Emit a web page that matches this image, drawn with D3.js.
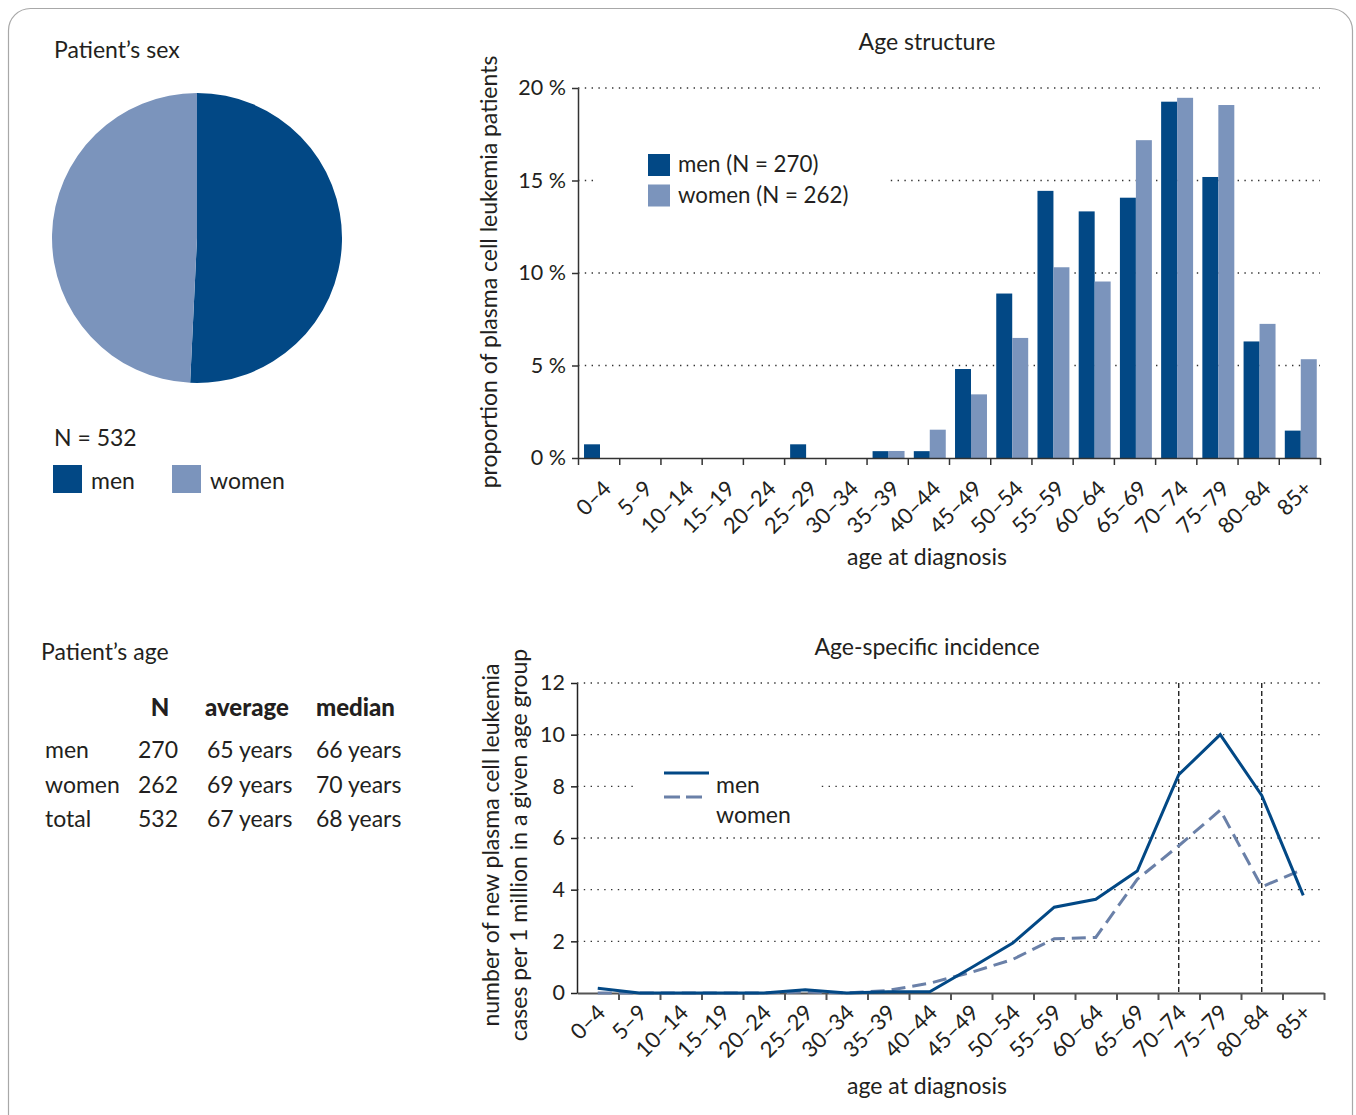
<!DOCTYPE html>
<html>
<head>
<meta charset="utf-8">
<script src="https://cdn.jsdelivr.net/npm/d3@7"></script>
<style>
  html, body { margin: 0; padding: 0; background: #fff; }
  svg { display: block; font-family: Lato, "Noto Sans", sans-serif; }
  text { fill: #231f20; }
</style>
</head>
<body>
<svg id="chart" width="1356" height="1115"></svg>
<script>
// ---- data ----
const ageGroups = ["0–4","5–9","10–14","15–19","20–24","25–29","30–34","35–39","40–44",
                   "45–49","50–54","55–59","60–64","65–69","70–74","75–79","80–84","85+"];

// share of patients in each age group (%)
const menShare   = [0.74,0,0,0,0,0.74,0,0.37,0.37,4.81,8.89,14.44,13.33,14.07,19.26,15.19,6.30,1.48];
const womenShare = [0,0,0,0,0,0,0,0.38,1.53,3.44,6.49,10.31,9.54,17.18,19.47,19.08,7.25,5.34];

// new cases per 1 million in each age group
const menIncidence   = [0.18,0,0,0,0,0.13,0,0.05,0.05,0.98,1.93,3.32,3.63,4.72,8.45,10.0,7.65,3.78];
const womenIncidence = [0,0,0,0,0,0.04,0,0.1,0.38,0.8,1.3,2.1,2.15,4.4,5.7,7.08,4.11,4.79];

const sexLabels = ["men","women"];
const sexCounts = [270, 262];

const shareTicks = [0,5,10,15,20];
const incidenceTicks = [0,2,4,6,8,10,12];
const markedGroups = ["70–74","80–84"];

const ageTable = [
  ["men",   "270", "65 years", "66 years"],
  ["women", "262", "69 years", "70 years"],
  ["total", "532", "67 years", "68 years"]
];
const ageTableHeader = ["", "N", "average", "median"];

// ---- styling ----
const C_MEN = "#024885";
const C_WOMEN = "#7b94bc";
const C_WOMEN_LINE = "#6a80a8";
const INK = "#231f20";
const FS = 23;        // body text
const FS_TICK = 21.5; // numeric tick labels
const FS_CAT = 22;    // age group labels

const svg = d3.select("#chart");

// outer frame
svg.append("rect")
  .attr("x", 8.5).attr("y", 8.5).attr("width", 1344).attr("height", 1140)
  .attr("rx", 22).attr("fill", "none").attr("stroke", "#a8a8a8").attr("stroke-width", 1.2);

// ---------- Patient's sex (pie) ----------
svg.append("text").attr("x", 54).attr("y", 58).attr("font-size", FS).text("Patient’s sex");

const pie = d3.pie().sort(null)(sexCounts);
const arc = d3.arc().innerRadius(0).outerRadius(145);
svg.append("g").attr("transform", "translate(197,238)")
  .selectAll("path").data(pie).join("path")
  .attr("d", arc)
  .attr("fill", (d, i) => i === 0 ? C_MEN : C_WOMEN);

svg.append("text").attr("x", 54).attr("y", 446).attr("font-size", FS)
  .text("N = " + d3.sum(sexCounts));

const pieLegend = svg.append("g");
sexLabels.forEach((s, i) => {
  const x0 = 53 + i * 119;
  pieLegend.append("rect").attr("x", x0).attr("y", 465).attr("width", 29).attr("height", 28)
    .attr("fill", i === 0 ? C_MEN : C_WOMEN);
  pieLegend.append("text").attr("x", x0 + 38).attr("y", 489).attr("font-size", FS).text(s);
});

// ---------- Patient's age (table) ----------
svg.append("text").attr("x", 41).attr("y", 660).attr("font-size", FS).text("Patient’s age");

const colX = [45, 178, 207, 316];
const colAnchor = ["start", "end", "start", "start"];
const headX = [45, 160, 205, 316];
const headAnchor = ["start", "middle", "start", "start"];
ageTableHeader.forEach((h, j) => {
  svg.append("text").attr("x", headX[j]).attr("y", 716).attr("font-size", 24)
    .attr("font-weight", "900").attr("text-anchor", headAnchor[j]).text(h);
});
ageTable.forEach((row, i) => {
  row.forEach((cell, j) => {
    svg.append("text").attr("x", colX[j]).attr("y", 758 + i * 34.5).attr("font-size", FS)
      .attr("text-anchor", colAnchor[j]).text(cell);
  });
});

// helper: dotted horizontal gridlines
function grid(g, yScale, values, x0, x1) {
  g.selectAll("line.grid").data(values).join("line")
    .attr("class", "grid")
    .attr("x1", x0).attr("x2", x1)
    .attr("y1", d => yScale(d)).attr("y2", d => yScale(d))
    .attr("stroke", "#333").attr("stroke-width", 1.4).attr("stroke-dasharray", "1.4,5.4");
}

// helper: rotated category labels
function catLabels(g, xScale, y, dx, dy) {
  g.selectAll("text.cat").data(ageGroups).join("text")
    .attr("class", "cat")
    .attr("text-anchor", "end")
    .attr("font-size", FS_CAT)
    .attr("transform", d => `translate(${xScale(d) + xScale.bandwidth() / 2 + dx},${y + dy}) rotate(-45)`)
    .text(d => d);
}

// ---------- Age structure (grouped bars) ----------
{
  const left = 578, right = 1320, top = 88, bottom = 458;
  const x = d3.scaleBand().domain(ageGroups).range([left, right]).padding(0);
  const xs = d3.scaleBand().domain(sexLabels).range([0, x.bandwidth()]).paddingOuter(0.29).align(0.65);
  const y = d3.scaleLinear().domain([0, 20]).range([bottom, top]);
  const g = svg.append("g");

  g.append("text").attr("x", 927).attr("y", 50).attr("text-anchor", "middle").attr("font-size", FS)
    .text("Age structure");

  grid(g, y, shareTicks.filter(d => d > 0), left, right);

  // legend box sits above gridlines
  const leg = g.append("g");
  leg.append("rect").attr("x", 598).attr("y", 146).attr("width", 288).attr("height", 70).attr("fill", "#fff");
  [["men (N = 270)", C_MEN], ["women (N = 262)", C_WOMEN]].forEach(([t, c], i) => {
    leg.append("rect").attr("x", 648).attr("y", 154 + i * 30.5).attr("width", 22).attr("height", 22).attr("fill", c);
    leg.append("text").attr("x", 678).attr("y", 172 + i * 30.5).attr("font-size", 22.3).text(t);
  });

  const rows = ageGroups.map((a, i) => ({ age: a, men: menShare[i], women: womenShare[i] }));
  g.append("g").selectAll("g").data(rows).join("g")
    .attr("transform", d => `translate(${x(d.age)},0)`)
    .selectAll("rect").data(d => sexLabels.map(s => ({ s, v: d[s] }))).join("rect")
    .attr("x", d => xs(d.s)).attr("width", xs.bandwidth())
    .attr("y", d => y(d.v)).attr("height", d => bottom - y(d.v))
    .attr("fill", d => d.s === "men" ? C_MEN : C_WOMEN);

  // axes
  const yAxis = g.append("g").attr("transform", `translate(${left},0)`)
    .call(d3.axisLeft(y).tickValues(shareTicks).tickFormat(d => d + " %").tickSize(6).tickSizeOuter(0).tickPadding(6));
  const xb = d3.scaleLinear().domain([0, ageGroups.length]).range([left, right]);
  const xAxis = g.append("g").attr("transform", `translate(0,${bottom})`)
    .call(d3.axisBottom(xb).tickValues(d3.range(0, ageGroups.length + 1)).tickFormat("").tickSize(7).tickSizeOuter(0));
  [yAxis, xAxis].forEach(a => {
    a.selectAll("path,line").attr("stroke", "#333").attr("stroke-width", 1.5);
    a.selectAll("text").attr("font-size", FS_TICK).attr("font-family", "Lato, sans-serif").attr("fill", INK);
  });

  catLabels(g, x, bottom, 14, 32);

  g.append("text").attr("x", 927).attr("y", 565).attr("text-anchor", "middle").attr("font-size", FS)
    .text("age at diagnosis");
  g.append("text").attr("transform", "translate(497,272) rotate(-90)").attr("text-anchor", "middle")
    .attr("font-size", FS).text("proportion of plasma cell leukemia patients");
}

// ---------- Age-specific incidence (lines) ----------
{
  const left = 577, right = 1324, top = 683, bottom = 993;
  const x = d3.scaleBand().domain(ageGroups).range([left, right]).padding(0);
  const cx = a => x(a) + x.bandwidth() / 2;
  const y = d3.scaleLinear().domain([0, 12]).range([bottom, top]);
  const g = svg.append("g");

  g.append("text").attr("x", 927).attr("y", 655).attr("text-anchor", "middle").attr("font-size", FS)
    .text("Age-specific incidence");

  grid(g, y, incidenceTicks.filter(d => d > 0), left, right);

  // vertical markers
  g.selectAll("line.mark").data(markedGroups).join("line")
    .attr("class", "mark")
    .attr("x1", d => cx(d)).attr("x2", d => cx(d))
    .attr("y1", top).attr("y2", bottom)
    .attr("stroke", "#111").attr("stroke-width", 1.3).attr("stroke-dasharray", "5,3");

  // legend box sits above gridlines
  const leg = g.append("g");
  leg.append("rect").attr("x", 636).attr("y", 760).attr("width", 181).attr("height", 68).attr("fill", "#fff");
  leg.append("line").attr("x1", 664).attr("x2", 709).attr("y1", 773).attr("y2", 773)
    .attr("stroke", C_MEN).attr("stroke-width", 3);
  leg.append("line").attr("x1", 664).attr("x2", 702).attr("y1", 797).attr("y2", 797)
    .attr("stroke", C_WOMEN_LINE).attr("stroke-width", 3).attr("stroke-dasharray", "16,6");
  leg.append("text").attr("x", 716).attr("y", 793).attr("font-size", FS).text("men");
  leg.append("text").attr("x", 716).attr("y", 823).attr("font-size", FS).text("women");

  // axes
  const xb = d3.scaleLinear().domain([0, ageGroups.length]).range([left, right]);
  const xAxis = g.append("g").attr("transform", `translate(0,${bottom})`)
    .call(d3.axisBottom(xb).tickValues(d3.range(1, ageGroups.length + 1)).tickFormat("").tickSize(7).tickSizeOuter(0));
  xAxis.selectAll("path,line").attr("stroke", "#555").attr("stroke-width", 2);
  const yAxis = g.append("g").attr("transform", `translate(${left},0)`)
    .call(d3.axisLeft(y).tickValues(incidenceTicks).tickSize(6).tickSizeOuter(0).tickPadding(6));
  yAxis.selectAll("path,line").attr("stroke", "#222").attr("stroke-width", 1.5);
  yAxis.selectAll("text").attr("font-size", FS_TICK).attr("font-family", "Lato, sans-serif").attr("fill", INK);

  const line = d3.line().x((d, i) => cx(ageGroups[i])).y(d => y(d));
  g.append("path").datum(womenIncidence).attr("d", line)
    .attr("fill", "none").attr("stroke", C_WOMEN_LINE).attr("stroke-width", 3)
    .attr("stroke-dasharray", "14,7");
  g.append("path").datum(menIncidence).attr("d", line)
    .attr("fill", "none").attr("stroke", C_MEN).attr("stroke-width", 3).attr("stroke-linejoin", "miter");

  catLabels(g, x, bottom, 9, 21);

  g.append("text").attr("x", 927).attr("y", 1094).attr("text-anchor", "middle").attr("font-size", FS)
    .text("age at diagnosis");
  const yl = g.append("text").attr("transform", "translate(499,845) rotate(-90)").attr("text-anchor", "middle")
    .attr("font-size", FS);
  yl.append("tspan").attr("x", 0).attr("dy", 0).text("number of new plasma cell leukemia");
  yl.append("tspan").attr("x", 0).attr("dy", 28).text("cases per 1 million in a given age group");
}
</script>
</body>
</html>
